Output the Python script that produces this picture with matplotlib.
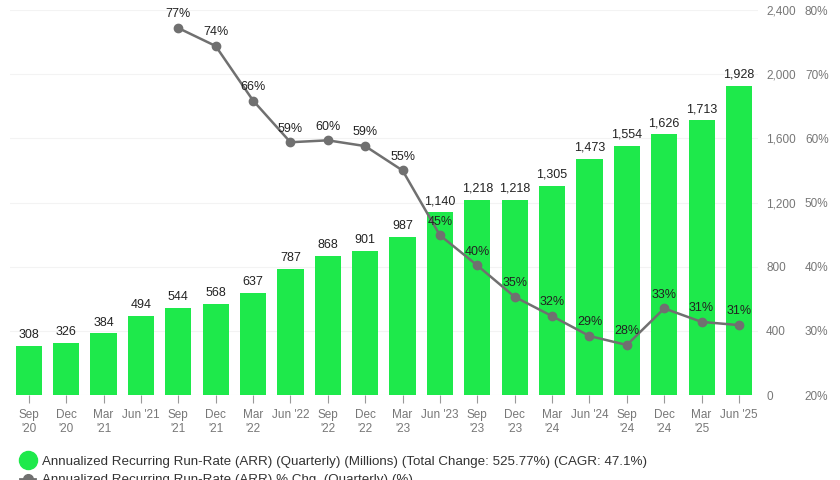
import matplotlib
matplotlib.use("Agg")
import matplotlib.pyplot as plt
from matplotlib.lines import Line2D
import numpy as np

plt.rcParams['font.family'] = ['Liberation Sans', 'DejaVu Sans']

quarters = ["Sep\n'20", "Dec\n'20", "Mar\n'21", "Jun '21", "Sep\n'21", "Dec\n'21", "Mar\n'22",
            "Jun '22", "Sep\n'22", "Dec\n'22", "Mar\n'23", "Jun '23", "Sep\n'23", "Dec\n'23",
            "Mar\n'24", "Jun '24", "Sep\n'24", "Dec\n'24", "Mar\n'25", "Jun '25"]
arr = [308, 326, 384, 494, 544, 568, 637, 787, 868, 901, 987, 1140, 1218, 1218,
       1305, 1473, 1554, 1626, 1713, 1928]
# % change starts at Sep '21
pct = [None, None, None, None, 77.2, 74.4, 65.9, 59.4, 59.7, 58.8, 55.0, 44.9, 40.2, 35.3,
       32.3, 29.2, 27.8, 33.5, 31.4, 30.9]
pct_labels = [None, None, None, None, "77%", "74%", "66%", "59%", "60%", "59%", "55%", "45%",
              "40%", "35%", "32%", "29%", "28%", "33%", "31%", "31%"]

green = "#1ee94b"
grey_line = "#707070"
tick_col = "#777777"

fig = plt.figure(figsize=(8.4, 4.8), dpi=100)
ax = fig.add_axes([0.012, 0.177, 0.89, 0.802])
x = np.arange(len(arr))

ax.bar(x, arr, width=0.7, color=green, zorder=2)
ax.set_xlim(-0.5, len(arr) - 0.5)
ax.set_ylim(0, 2400)
ax.set_xticks(x)
ax.set_xticklabels(quarters)
ax.tick_params(axis="x", length=6, width=0.8, color="#999999", labelsize=8.5,
               labelcolor=tick_col, pad=4)
ax.grid(axis="y", color="#f3f3f3", linewidth=0.8, zorder=0)
for s in ax.spines.values():
    s.set_visible(False)

for xi, v in zip(x, arr):
    ax.text(xi, v + 30, f"{v:,}", ha="center", va="bottom", fontsize=9, color="#222222", zorder=5)

ax2 = ax.twinx()
ax2.set_ylim(20, 80)
ax2.set_yticks(range(20, 81, 10))
ax2.set_yticklabels([f"{v}%" for v in range(20, 81, 10)])
ax2.tick_params(axis="y", length=0, pad=34, labelsize=8.5, labelcolor=tick_col)
for s in ax2.spines.values():
    s.set_visible(False)

# twinx moves the first axis to the left, so put it back on the right
ax.yaxis.tick_right()
ax.set_yticks(range(0, 2401, 400))
ax.set_yticklabels([f"{v:,}" for v in range(0, 2401, 400)])
ax.tick_params(axis="y", length=0, pad=6, labelsize=8.5, labelcolor=tick_col)

px = [xi for xi, p in zip(x, pct) if p is not None]
py = [p for p in pct if p is not None]
ax2.plot(px, py, color=grey_line, linewidth=1.8, marker="o", markersize=6, zorder=4)
for xi, p, lab in zip(x, pct, pct_labels):
    if p is None:
        continue
    ax2.text(xi, p + 1.2, lab, ha="center", va="bottom", fontsize=9, color="#222222", zorder=5)

handles = [
    Line2D([], [], linestyle="none", marker="o", markersize=13, color=green),
    Line2D([], [], color=grey_line, linewidth=2, marker="o", markersize=7),
]
labels = [
    "Annualized Recurring Run-Rate (ARR) (Quarterly) (Millions) (Total Change: 525.77%) (CAGR: 47.1%)",
    "Annualized Recurring Run-Rate (ARR) % Chg. (Quarterly) (%)",
]
fig.legend(handles, labels, loc="upper left", bbox_to_anchor=(0.018, 0.062), frameon=False,
           fontsize=9.6, labelcolor="#333333", handlelength=1.1, handletextpad=0.5,
           labelspacing=0.45, borderaxespad=0)

fig.savefig("out.png", dpi=100)
